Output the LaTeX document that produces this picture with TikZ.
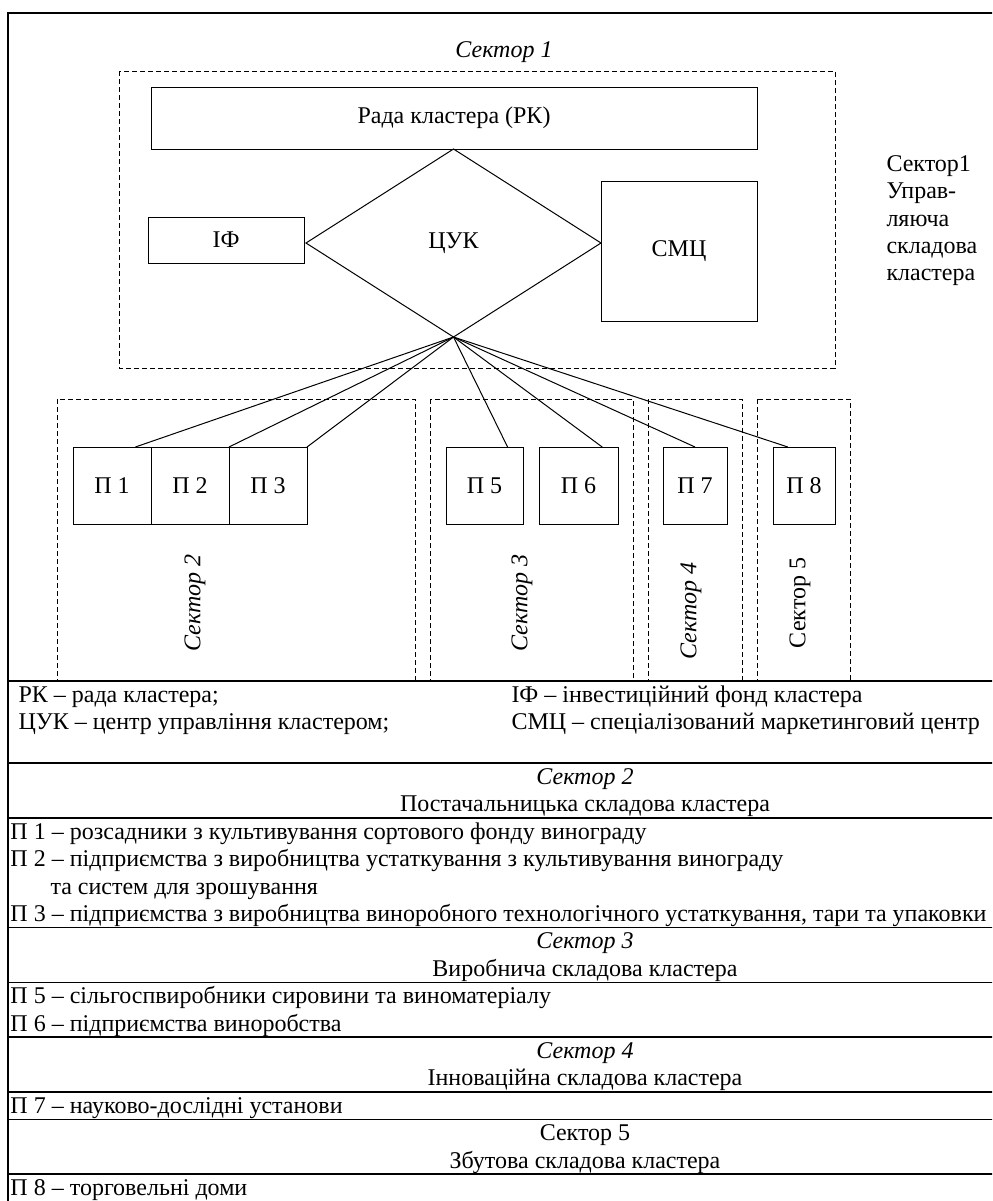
\documentclass[tikz,border=0pt]{standalone}
\usepackage{fontspec}
\setmainfont{Liberation Serif}
\usetikzlibrary{shapes.geometric,positioning,calc}

\begin{document}
\begin{tikzpicture}[x=0.5pt,y=-0.5pt,line width=0.5pt,
  font=\fontsize{12}{13.7}\selectfont,
  main node/.style={draw,rectangle,inner sep=0pt,outer sep=0pt,align=center},
  unit node/.style={main node,minimum height=38.5pt},
  sector frame/.style={dash pattern=on 2.5pt off 1.5pt},
  rule/.style={line width=0.9pt},
  row/.style={anchor=base west,inner sep=0pt},
  head/.style={anchor=base,inner sep=0pt}]

  \clip (0,0) rectangle (992,1201);

  % frame and table rules
  \draw[rule] (8,1240) -- (8,13) -- (1200,13);
  \foreach \y in {681,763,818,927.5,982.5,1037,1092,1119.5,1174}
    \draw[rule] (8,\y) -- (1200,\y);

  % sector 1
  \node (s1) at (504,52) {\itshape Сектор 1};
  \draw[sector frame] (119,71) rectangle (835,368);
  \node[main node,minimum width=303pt,minimum height=31pt] (rk) at (454,118) {Рада кластера (РК)};
  \node[main node,shape=diamond,minimum width=147.5pt,minimum height=94pt] (cuk) at (453.5,243) {ЦУК};
  \node[main node,minimum width=78pt,minimum height=23pt] (fund) at (226,240) {ІФ};
  \node[main node,minimum width=78pt,minimum height=70pt] (smc) at (679,251) {СМЦ};
  \node[anchor=north west,align=left,inner sep=0pt] (s1note) at (886,155)
    {Сектор1\\Управ-\\ляюча\\складова\\кластера};

  % sectors 2--5
  \draw[sector frame] (57,399) rectangle (415,681);
  \draw[sector frame] (430,399) rectangle (633,681);
  \draw[sector frame] (648,399) rectangle (742,681);
  \draw[sector frame] (757,399) rectangle (850,681);

  \node[unit node,minimum width=39pt] (p1) at (112,485.5) {П 1};
  \node[unit node,minimum width=39pt,right=0pt of p1] (p2) {П 2};
  \node[unit node,minimum width=39pt,right=0pt of p2] (p3) {П 3};
  \node[unit node,minimum width=38.5pt] (p5) at (484.5,485.5) {П 5};
  \node[unit node,minimum width=39.5pt] (p6) at (578.5,485.5) {П 6};
  \node[unit node,minimum width=32pt] (p7) at (695,485.5) {П 7};
  \node[unit node,minimum width=31pt] (p8) at (804,485.5) {П 8};

  \node[rotate=90] (s2) at (195,603) {\itshape Сектор 2};
  \node[rotate=90] (s3) at (522,603) {\itshape Сектор 3};
  \node[rotate=90] (s4) at (691,611) {\itshape Сектор 4};
  \node[rotate=90] (s5) at (800,603) {Сектор 5};

  \path (cuk.south) edge ($(p1.north west)!0.8!(p1.north east)$)
                    edge (p2.north east)
                    edge (p3.north east)
                    edge ($(p5.north west)!0.8!(p5.north east)$)
                    edge ($(p6.north west)!0.8!(p6.north east)$)
                    edge (p7.north)
                    edge ($(p8.north west)!0.24!(p8.north east)$);

  % legend
  \node[row] (n1) at (18,702) {РК – рада кластера;};
  \node[row] (n2) at (18,729.5) {ЦУК – центр управління кластером;};
  \node[row] (n3) at (511,702) {ІФ – інвестиційний фонд кластера};
  \node[row] (n4) at (511,729.5) {СМЦ – спеціалізований маркетинговий центр};

  % sector notes
  \node[head] (h2) at (585,784) {\itshape Сектор 2};
  \node[head] (h2b) at (585,811.5) {Постачальницька складова кластера};
  \node[row] (r1) at (10,839) {П 1 – розсадники з культивування сортового фонду винограду};
  \node[row] (r2) at (10,866.5) {П 2 – підприємства з виробництва устаткування з культивування винограду};
  \node[row] (r2b) at (50,894) {та систем для зрошування};
  \node[row] (r3) at (10,921.5) {П 3 – підприємства з виробництва виноробного технологічного устаткування, тари та упаковки};

  \node[head] (h3) at (585,948.5) {\itshape Сектор 3};
  \node[head] (h3b) at (585,976) {Виробнича складова кластера};
  \node[row] (r5) at (10,1003.5) {П 5 – сільгоспвиробники сировини та виноматеріалу};
  \node[row] (r6) at (10,1031) {П 6 – підприємства виноробства};

  \node[head] (h4) at (585,1058) {\itshape Сектор 4};
  \node[head] (h4b) at (585,1085.5) {Інноваційна складова кластера};
  \node[row] (r7) at (10,1113) {П 7 – науково-дослідні установи};

  \node[head] (h5) at (585,1140.5) {Сектор 5};
  \node[head] (h5b) at (585,1168) {Збутова складова кластера};
  \node[row] (r8) at (10,1195) {П 8 – торговельні доми};
\end{tikzpicture}
\end{document}
